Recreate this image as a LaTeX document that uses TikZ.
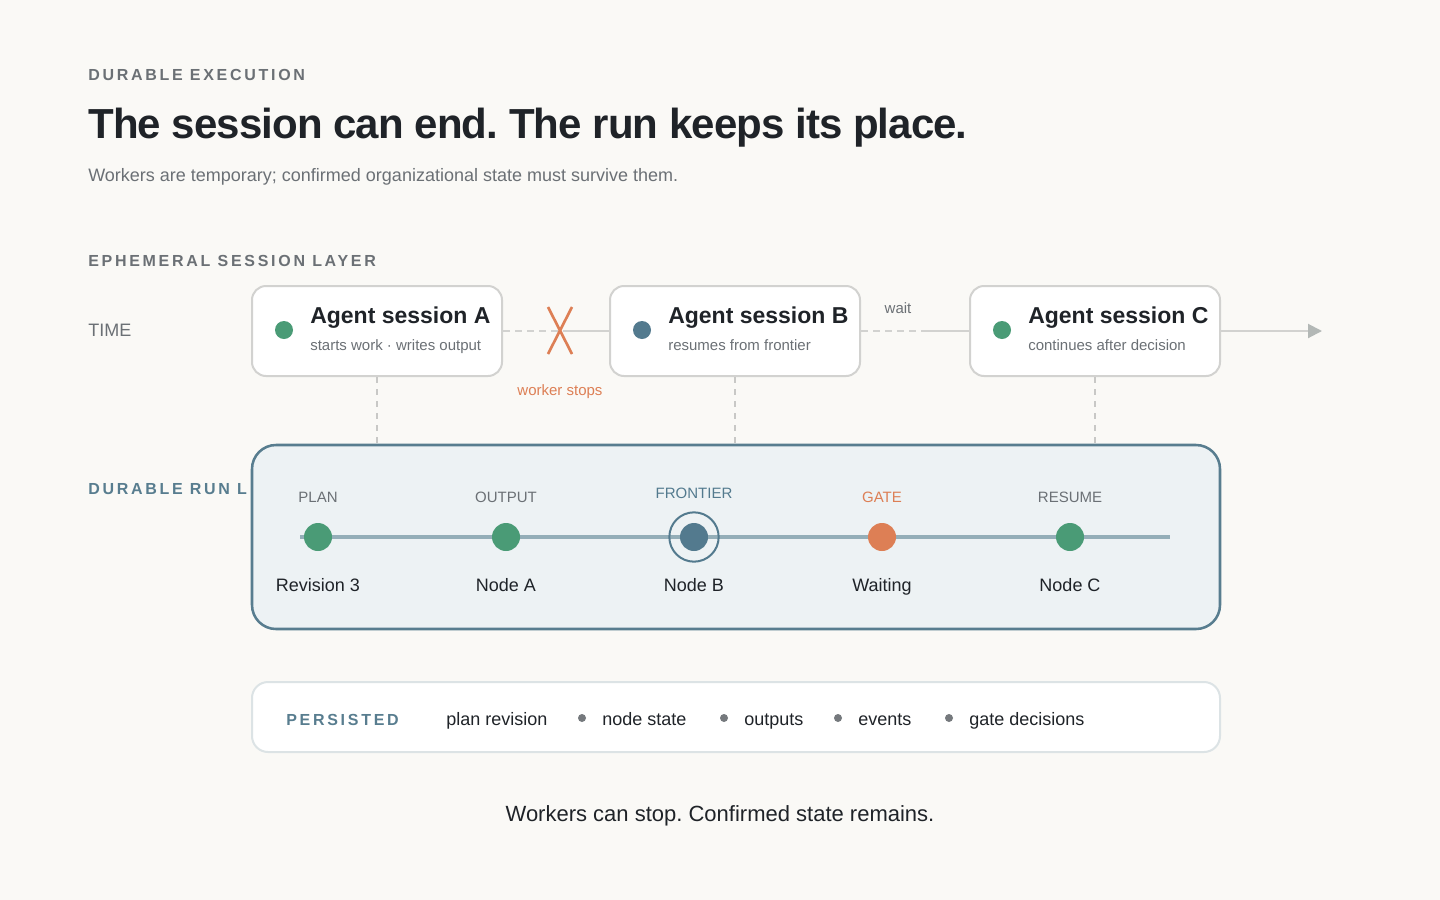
\documentclass[tikz,border=0pt]{standalone}
\usepackage{fontspec}
\setmainfont{Liberation Sans}
\newfontfamily\trackfont[LetterSpace=17]{Liberation Sans}
\newfontfamily\tightfont[LetterSpace=-2.2]{Liberation Sans}
\usetikzlibrary{arrows.meta}
\definecolor{paper}{HTML}{FAF9F6}
\definecolor{ink}{HTML}{1F2328}
\definecolor{muted}{HTML}{6B7075}
\definecolor{boxline}{HTML}{D2D2D0}
\definecolor{dropline}{HTML}{C8C8C6}
\definecolor{okgreen}{HTML}{4A9B76}
\definecolor{slate}{HTML}{537A8E}
\definecolor{stoporange}{HTML}{DD7F55}
\definecolor{runfill}{HTML}{EDF2F4}
\definecolor{runedge}{HTML}{587D8F}
\definecolor{rail}{HTML}{94AEB8}
\definecolor{tip}{HTML}{B3B8B6}
\definecolor{keepline}{HTML}{DCE3E5}
\definecolor{bullet}{HTML}{75797D}
\newcommand{\px}[1]{\fontsize{\fpeval{0.75*#1}}{\fpeval{0.9*#1}}\selectfont}
\frenchspacing

\begin{document}
\begin{tikzpicture}[x=0.75pt,y=-0.75pt,
    txt/.style={inner sep=0pt, anchor=base west},
    ctxt/.style={inner sep=0pt, anchor=base},
    session/.style={draw=boxline, line width=1.5pt, fill=white, rounded corners=10.5pt,
        minimum width=187.5pt, minimum height=67.5pt},
    sdot/.style={circle, inner sep=0pt, minimum size=13.5pt},
    tl/.style={draw=boxline, line width=1.5pt},
    tldash/.style={tl, dash pattern=on 5pt off 4pt},
    drop/.style={draw=dropline, line width=1.2pt, dash pattern=on 4.5pt off 4.5pt},
    milestone/.style={circle, inner sep=0pt, minimum size=21pt},
    bulletdot/.style={circle, inner sep=0pt, minimum size=6pt, fill=bullet}]
    \fill[paper] (0,0) rectangle (1440,900);
    \useasboundingbox (0,0) rectangle (1440,900);

    \node[txt, text=muted] (kicker) at (88,80) {\px{16}\trackfont\bfseries DURABLE EXECUTION};
    \node[txt, text=ink] (title) at (88,138) {\px{42}\tightfont\bfseries The session can end. The run keeps its place.};
    \node[txt, text=muted] (lede) at (88,181) {\px{18}Workers are temporary; confirmed organizational state must survive them.};

    \node[txt, text=muted] (ephlabel) at (88,266) {\px{16}\trackfont\bfseries EPHEMERAL SESSION LAYER};
    \node[txt, text=muted] (timelabel) at (88,336) {\px{18}TIME};

    \node[session] (sesA) at (377,331) {};
    \node[session] (sesB) at (735,331) {};
    \node[session] (sesC) at (1095,331) {};

    \node[sdot, fill=okgreen] (dotA) at (284,330) {};
    \node[sdot, fill=slate] (dotB) at (642,330) {};
    \node[sdot, fill=okgreen] (dotC) at (1002,330) {};

    \node[txt, text=ink] (titleA) at (310,323) {\px{23}\bfseries Agent session A};
    \node[txt, text=muted] (subA) at (310,350) {\px{15}starts work · writes output};
    \node[txt, text=ink] (titleB) at (668,323) {\px{23}\bfseries Agent session B};
    \node[txt, text=muted] (subB) at (668,350) {\px{15}resumes from frontier};
    \node[txt, text=ink] (titleC) at (1028,323) {\px{23}\bfseries Agent session C};
    \node[txt, text=muted] (subC) at (1028,350) {\px{15}continues after decision};

    \coordinate (cutA) at (568,331);
    \coordinate (cutB) at (927,331);
    \coordinate (timeEnd) at (1322,331);
    \draw[tldash] (sesA.east) -- (cutA);
    \draw[tl] (cutA) -- (sesB.west);
    \draw[tldash] (sesB.east) -- (cutB);
    \draw[tl] (cutB) -- (sesC.west);
    \draw[tl, -{Triangle[length=10.5pt,width=10.5pt,color=tip]}] (sesC.east) -- (timeEnd);

    \draw[stoporange, line width=2pt] (548,307) -- (572,354);
    \draw[stoporange, line width=2pt] (572,307) -- (548,354);
    \node[ctxt, text=stoporange] (stoplabel) at (560,395) {\px{15}worker stops};
    \node[ctxt, text=muted] (waitlabel) at (898,313) {\px{15}wait};

    \node[txt, text=runedge] (runlabel) at (88,494) {\px{16}\trackfont\bfseries DURABLE RUN L};
    \node[draw=runedge, line width=1.9pt, fill=runfill, rounded corners=18pt,
        minimum width=726pt, minimum height=138pt] (run) at (736,537) {};

    \draw[drop] (sesA.south) -- (sesA.south |- run.north);
    \draw[drop] (sesB.south) -- (sesB.south |- run.north);
    \draw[drop] (sesC.south) -- (sesC.south |- run.north);

    \coordinate (railL) at (300,537);
    \coordinate (railR) at (1170,537);
    \draw[rail, line width=3pt] (railL) -- (railR);

    \node[circle, draw=slate, line width=1.5pt, minimum size=37pt, inner sep=0pt] (frontierring) at (694,537) {};
    \foreach \name/\x/\col/\cap/\capcol/\capy/\lab in {
        plan/318/okgreen/PLAN/muted/502/Revision 3,
        output/506/okgreen/OUTPUT/muted/502/Node A,
        frontier/694/slate/FRONTIER/slate/498/Node B,
        gate/882/stoporange/GATE/stoporange/502/Waiting,
        resume/1070/okgreen/RESUME/muted/502/Node C} {
        \node[milestone, fill=\col] (\name) at (\x,537) {};
        \node[ctxt, text=\capcol] (\name cap) at (\x,\capy) {\px{15}\cap};
        \node[ctxt, text=ink] (\name lab) at (\x,591) {\px{18}\lab};
    }

    \node[draw=keepline, line width=1.5pt, fill=white, rounded corners=12pt,
        minimum width=726pt, minimum height=52.5pt] (kept) at (736,717) {};
    \node[txt, text=runedge] (keptlabel) at (286,725) {\px{16}\trackfont\bfseries PERSISTED};
    \node[txt, text=ink] (keepplan) at (446,725) {\px{18}plan revision};
    \node[bulletdot] (b1) at (582,718) {};
    \node[txt, text=ink] (keepnode) at (602,725) {\px{18}node state};
    \node[bulletdot] (b2) at (724,718) {};
    \node[txt, text=ink] (keepout) at (744,725) {\px{18}outputs};
    \node[bulletdot] (b3) at (838,718) {};
    \node[txt, text=ink] (keepevents) at (858,725) {\px{18}events};
    \node[bulletdot] (b4) at (949,718) {};
    \node[txt, text=ink] (keepgate) at (969,725) {\px{18}gate decisions};

    \node[ctxt, text=ink] (footer) at (720,821) {\px{22}Workers can stop. Confirmed state remains.};
\end{tikzpicture}
\end{document}
